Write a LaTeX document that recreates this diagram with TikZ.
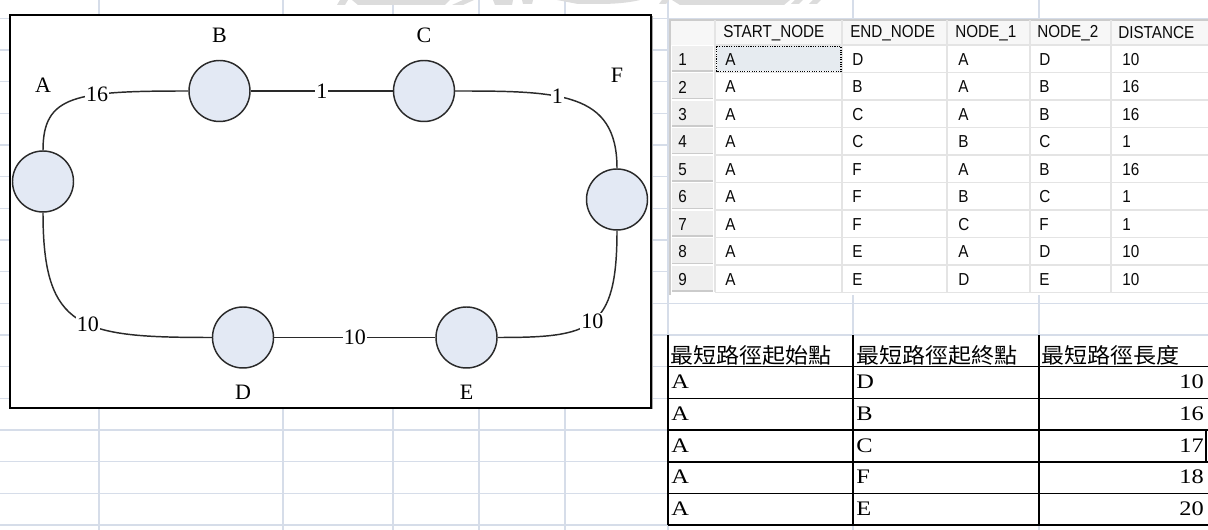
\documentclass[tikz,border=0pt]{standalone}
\usepackage{fontspec}
\setmainfont{Liberation Serif}
\newfontfamily\uifont[FakeStretch=0.88]{Liberation Sans}
\newfontfamily\cellfont[FakeStretch=1.18]{Liberation Serif}
\newfontfamily\cjkfont[FakeStretch=1.08]{Noto Sans CJK TC}
\definecolor{gridblue}{HTML}{D6DDE9}
\definecolor{nodefill}{HTML}{E3E9F4}
\definecolor{edgegray}{HTML}{2A2A2A}
\definecolor{markgray}{HTML}{DCDCDC}
\definecolor{uitextc}{HTML}{0A0A0A}
\definecolor{rowhead}{HTML}{EFEFEF}
\definecolor{rowheadline}{HTML}{CBCBCB}
\definecolor{cellline}{HTML}{E4E4E4}
\definecolor{selfill}{HTML}{E6EBF0}
\begin{document}
\begin{tikzpicture}[x=0.75pt,y=-0.75pt,
  sheetgrid/.style={draw=gridblue, line width=0.9pt},
  vertex/.style={circle, draw=edgegray, fill=nodefill, line width=1.1pt,
    minimum size=45.75pt, inner sep=0pt},
  vname/.style={inner sep=0pt, font=\fontsize{16.5}{18}\selectfont},
  link/.style={draw=edgegray, line width=1.1pt},
  wlabel/.style={fill=white, inner sep=0.8pt, font=\fontsize{16.5}{18}\selectfont},
  uitext/.style={anchor=west, inner sep=0pt, text=uitextc,
    font=\uifont\fontsize{13}{15}\selectfont},
  cjkhead/.style={anchor=west, inner sep=0pt, font=\cjkfont\fontsize{16}{18}\selectfont},
  celltext/.style={inner sep=0pt, font=\cellfont\fontsize{15.5}{18}\selectfont},
  tableline/.style={draw=black, line width=1.2pt}]

% page background
\fill[white] (0,0) rectangle (1208,530);
\useasboundingbox (0,0) rectangle (1208,530);

% spreadsheet grid behind everything
\foreach \k in {0,...,16}
  \draw[sheetgrid] (0,{18.3+31.67*\k}) -- (1208,{18.3+31.67*\k});
\foreach \gx in {99,283,393,479,565,668,853,1039}
  \draw[sheetgrid] (\gx,0) -- (\gx,530);

% faint logo strokes along the top edge
\begin{scope}[fill=markgray]
  \fill (340,0) -- (348,0) -- (345,5) -- (337,5) -- cycle;
  \fill (352,0) -- (450,0) -- (445,5) -- (358,5) -- cycle;
  \fill (463,0) -- (474,0) -- (463,5) -- (452,5) -- cycle;
  \fill (493,0) -- (513,0) -- (512,5) -- (495,5) -- cycle;
  \fill (522,0) -- (533,0) -- (532,4) -- (523,4) -- cycle;
  \fill (557,0) -- (640,0) .. controls (628,3) and (612,4) .. (600,4) -- (578,4) -- cycle;
  \fill (662,0) -- (669,0) -- (666,4) -- (659,4) -- cycle;
  \fill (672,0) -- (790,0) -- (784,5) -- (680,5) -- cycle;
  \fill (795,0) -- (803,0) -- (799,4) -- (791,4) -- cycle;
  \fill (813,0) -- (821,0) -- (817,4) -- (809,4) -- cycle;
\end{scope}

% ---------------- graph panel ----------------
\fill[gray!70] (11.5,16.5) rectangle (653,409.5);
\filldraw[fill=white, draw=black, line width=1.2pt] (10,15) rectangle (651,408);

\node[vertex] (A) at (43,181.5) {};
\node[vertex] (B) at (219.5,91) {};
\node[vertex] (C) at (424,91) {};
\node[vertex] (F) at (617,199.5) {};
\node[vertex] (D) at (243,337.5) {};
\node[vertex] (E) at (466.5,337.5) {};

\node[vname] (nA) at (43,85) {A};
\node[vname] (nB) at (219.5,35) {B};
\node[vname] (nC) at (424,35) {C};
\node[vname] (nF) at (617,75) {F};
\node[vname] (nD) at (243,392) {D};
\node[vname] (nE) at (466.5,392) {E};

\draw[link] (A.north) .. controls (43,95) and (75,91) .. node[wlabel,pos=0.65] (wAB) {16} (B.west);
\draw[link] (B.east) -- node[wlabel] (wBC) {1} (C.west);
\draw[link] (C.east) .. controls (560,91) and (617,92) .. node[wlabel,pos=0.4] (wCF) {1} (F.north);
\draw[link] (A.south) .. controls (43,330) and (80,337.5) .. node[wlabel,pos=0.56] (wAD) {10} (D.west);
\draw[link] (D.east) -- node[wlabel] (wDE) {10} (E.west);
\draw[link] (E.east) .. controls (591,337.5) and (617,331) .. node[wlabel,pos=0.5] (wEF) {10} (F.south);

% ---------------- query result grid ----------------
\fill[white] (670,20) rectangle (1208,295);
\fill[black!3] (670,20) rectangle (1208,45);
\draw[draw=black!20, line width=0.8pt] (670,295) -- (670,20) -- (1208,20);
\foreach \r in {1,...,9} {
  \fill[rowhead] (672,{45+27.5*(\r-1)+1}) rectangle (713,{45+27.5*\r-1});
  \draw[rowheadline, line width=1.4pt] (672,{45+27.5*\r-1.5}) -- (713,{45+27.5*\r-1.5});
}
\foreach \r in {0,...,9}
  \draw[cellline, line width=1.4pt] (715,{45+27.5*\r}) -- (1208,{45+27.5*\r});
\foreach \cx in {715,842,947,1030,1111}
  \draw[cellline, line width=1.4pt] (\cx,20) -- (\cx,292.5);
% focused cell
\filldraw[fill=selfill, draw=black, densely dotted, line width=0.8pt] (716.5,46.5) rectangle (841,71.5);

\node[uitext] (hS) at (723,33) {START\_NODE};
\node[uitext] (hE) at (850,33) {END\_NODE};
\node[uitext] (h1) at (955,33) {NODE\_1};
\node[uitext] (h2) at (1037,33) {NODE\_2};
\node[uitext] (hD) at (1118,33) {DISTANCE};

\foreach \r/\s/\e/\na/\nb/\d in {1/A/D/A/D/10, 2/A/B/A/B/16, 3/A/C/A/B/16,
    4/A/C/B/C/1, 5/A/F/A/B/16, 6/A/F/B/C/1, 7/A/F/C/F/1, 8/A/E/A/D/10, 9/A/E/D/E/10} {
  \node[uitext] (q\r n) at (678,{59.5+27.5*(\r-1)}) {\r};
  \node[uitext] (q\r s) at (725,{59.5+27.5*(\r-1)}) {\s};
  \node[uitext] (q\r e) at (852,{59.5+27.5*(\r-1)}) {\e};
  \node[uitext] (q\r a) at (958,{59.5+27.5*(\r-1)}) {\na};
  \node[uitext] (q\r b) at (1039,{59.5+27.5*(\r-1)}) {\nb};
  \node[uitext] (q\r d) at (1122,{59.5+27.5*(\r-1)}) {\d};
}

% ---------------- shortest path summary ----------------
\fill[white] (668,335) rectangle (1208,525);
\draw[sheetgrid] (668,335) -- (1208,335);
\foreach \k in {0,...,5}
  \draw[tableline] (668,{366.7+31.67*\k}) -- (1208,{366.7+31.67*\k});
\foreach \tx in {668,853,1039}
  \draw[tableline] (\tx,335) -- (\tx,525.05);
\draw[tableline] (1206,430) -- (1206,461.7);

\node[cjkhead] (t1) at (670,355) {最短路徑起始點};
\node[cjkhead] (t2) at (856,355) {最短路徑起終點};
\node[cjkhead] (t3) at (1041,355) {最短路徑長度};

\foreach \r/\e/\len in {1/D/10, 2/B/16, 3/C/17, 4/F/18, 5/E/20} {
  \node[celltext, anchor=west] (s\r a) at (671,{382+31.67*(\r-1)}) {A};
  \node[celltext, anchor=west] (s\r b) at (856,{382+31.67*(\r-1)}) {\e};
  \node[celltext, anchor=east] (s\r c) at (1204,{382+31.67*(\r-1)}) {\len};
}
\end{tikzpicture}
\end{document}
